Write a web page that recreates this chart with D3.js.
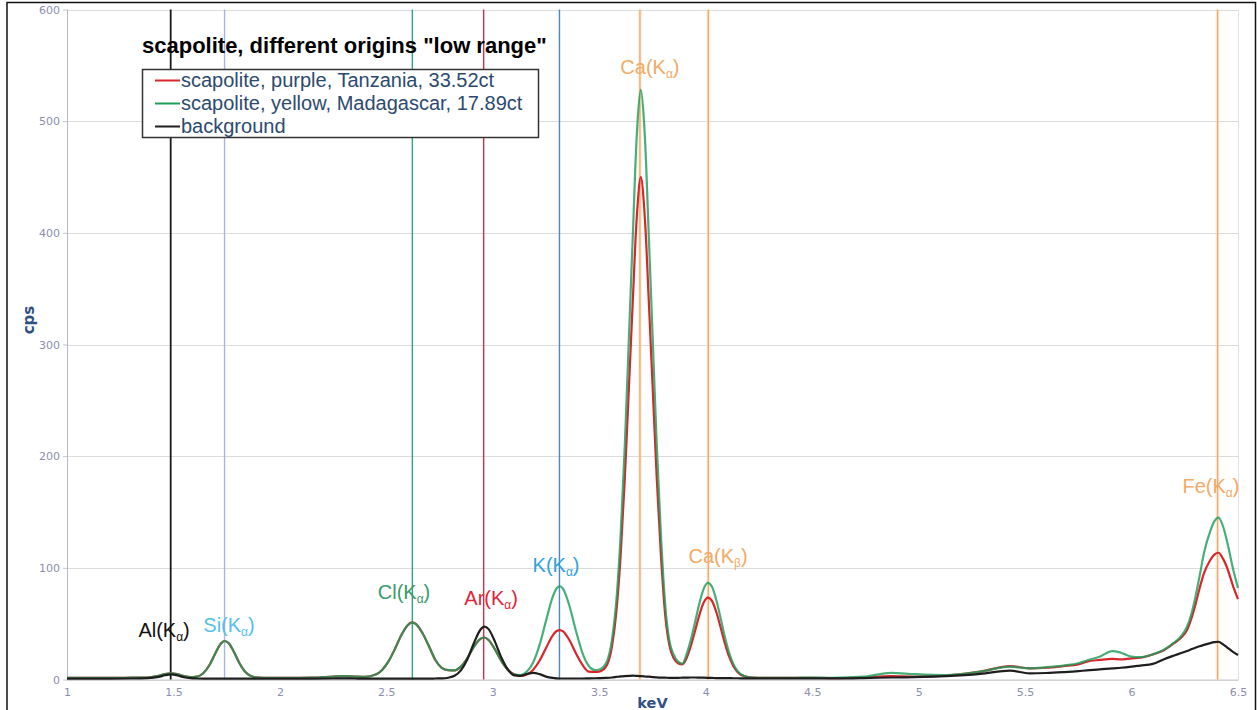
<!DOCTYPE html>
<html>
<head>
<meta charset="utf-8">
<script src="https://cdn.jsdelivr.net/npm/d3@7"></script>
<style>
  html, body { margin: 0; padding: 0; background: #ffffff; }
  svg { display: block; }
</style>
</head>
<body>
<svg id="chart" width="1257" height="710"></svg>
<script>
// ---- spectrum data (energy in keV, intensity in cps) ----
const energy = [
  1.00, 1.10, 1.20, 1.30, 1.38, 1.43, 1.46, 1.49, 1.52, 1.55,
  1.58, 1.61, 1.64, 1.67, 1.70, 1.72, 1.74, 1.76, 1.78, 1.81,
  1.84, 1.87, 1.90, 1.95, 2.05, 2.15, 2.25, 2.30, 2.35, 2.40,
  2.45, 2.48, 2.51, 2.54, 2.57, 2.60, 2.62, 2.64, 2.67, 2.70,
  2.73, 2.76, 2.79, 2.82, 2.85, 2.88, 2.91, 2.94, 2.96, 2.98,
  3.01, 3.04, 3.07, 3.10, 3.13, 3.16, 3.19, 3.22, 3.25, 3.28,
  3.30, 3.315, 3.33, 3.36, 3.39, 3.42, 3.45, 3.48, 3.50, 3.53,
  3.56, 3.58, 3.60, 3.62, 3.64, 3.66, 3.67, 3.68, 3.695, 3.71,
  3.72, 3.73, 3.75, 3.77, 3.79, 3.81, 3.83, 3.85, 3.87, 3.89,
  3.91, 3.93, 3.95, 3.97, 3.99, 4.01, 4.03, 4.05, 4.07, 4.09,
  4.11, 4.13, 4.15, 4.18, 4.22, 4.30, 4.40, 4.50, 4.60, 4.74,
  4.87, 4.98, 5.13, 5.29, 5.43, 5.52, 5.60, 5.68, 5.75, 5.79,
  5.85, 5.91, 5.95, 6.00, 6.04, 6.10, 6.15, 6.20, 6.23, 6.26,
  6.28, 6.30, 6.32, 6.34, 6.37, 6.39, 6.408, 6.43, 6.447, 6.478,
  6.50
];

// scapolite, purple, Tanzania, 33.52ct
const tanzania = [
  1.5, 1.5, 1.5, 1.6, 1.7, 3.3, 4.8, 5.5, 4.6, 3.0,
  2.1, 2.6, 5.6, 13.2, 24.7, 31.5, 34.5, 32.4, 26.2, 14.6,
  6.3, 2.7, 1.7, 1.5, 1.5, 1.6, 2.6, 3.0, 2.6, 2.3,
  4.4, 8.6, 16.2, 27.3, 39.6, 48.6, 51.2, 49.6, 41.4, 29.8,
  17.5, 10.5, 8.4, 8.2, 11.5, 19.0, 29.0, 36.2, 37.6, 35.4,
  27.0, 16.7, 8.8, 4.6, 3.2, 4.5, 8.8, 17.0, 28.2, 39.0,
  43.4, 44.3, 43.0, 35.1, 23.6, 13.5, 7.1, 6.7, 7.0, 11.0,
  30, 60, 110, 180, 265, 350, 393, 425, 450, 425,
  393, 350, 265, 180, 110, 57, 30, 19, 14.5, 13.5,
  19, 30, 43.6, 57.7, 68.7, 73.3, 70.2, 60.2, 46.5, 32.4,
  20.4, 11.9, 6.6, 3.0, 1.8, 1.5, 1.5, 1.5, 1.2, 1.8,
  3.0, 2.5, 3.5, 7.0, 12.0, 10.0, 10.5, 12.0, 13.5, 16.0,
  17.5, 18.5, 18.0, 19.0, 19.5, 22.5, 26.0, 32.5, 37.0, 44.0,
  54, 67, 82, 95, 107, 112, 113.5, 108, 101, 83,
  72
];

// scapolite, yellow, Madagascar, 17.89ct
const madagascar = [
  1.5, 1.5, 1.5, 1.6, 1.7, 3.3, 4.8, 5.5, 4.6, 3.0,
  2.1, 2.6, 5.6, 13.2, 24.7, 31.5, 34.5, 32.4, 26.2, 14.6,
  6.3, 2.7, 1.7, 1.5, 1.5, 1.6, 2.6, 3.0, 2.6, 2.3,
  4.4, 8.6, 16.2, 27.3, 39.6, 48.6, 50.9, 49.4, 41.4, 29.8,
  17.5, 10.5, 8.4, 8.2, 11.5, 19.0, 29.0, 36.2, 37.6, 35.4,
  27.0, 16.7, 8.8, 4.6, 4.0, 7.1, 15.5, 31.2, 52.7, 73.3,
  81.7, 83.5, 81.1, 65.8, 43.9, 24.4, 12.3, 8.5, 9.0, 14.0,
  36, 70, 128, 210, 310, 410, 462, 500, 528, 500,
  462, 410, 310, 210, 128, 66, 34, 22, 16, 14.3,
  22.5, 35.5, 51.5, 68, 81, 86.5, 82.8, 71, 54.8, 38,
  23.9, 13.8, 7.5, 3.2, 1.8, 1.5, 1.5, 1.8, 1.5, 2.5,
  6.0, 4.8, 3.9, 7.0, 11.5, 10.0, 11.0, 12.5, 14.5, 17.0,
  20.4, 25.5, 24.0, 20.5, 20.0, 22.5, 26.4, 33.0, 38.0, 47.0,
  58, 74, 93, 113, 133, 142, 145, 137, 125, 98,
  82
];

// background
const background = [
  0.8, 0.8, 0.8, 0.9, 1.2, 2.3, 3.8, 4.6, 3.6, 2.0,
  1.2, 0.9, 0.8, 0.8, 0.8, 0.8, 0.8, 0.8, 0.8, 0.8,
  0.8, 0.8, 0.8, 0.8, 0.8, 0.8, 0.9, 1.0, 0.9, 0.8,
  0.8, 0.8, 0.8, 0.8, 0.8, 0.8, 0.8, 0.8, 0.8, 0.8,
  0.9, 1.0, 1.6, 3.3, 8.2, 18.0, 32.0, 44.1, 47.3, 45.1,
  33.9, 19.7, 9.2, 3.7, 3.3, 4.9, 6.0, 4.8, 2.6, 1.4,
  1.0, 0.9, 0.9, 0.9, 0.9, 0.9, 1.0, 1.1, 1.2, 1.4,
  1.8, 2.3, 2.8, 3.1, 3.3, 3.4, 3.3, 3.2, 3.0, 2.8,
  2.6, 2.5, 2.2, 1.9, 1.7, 1.6, 1.5, 1.5, 1.5, 1.6,
  1.7, 1.8, 1.8, 1.7, 1.6, 1.5, 1.4, 1.3, 1.3, 1.2,
  1.2, 1.1, 1.1, 1.0, 1.0, 1.0, 1.0, 1.0, 1.0, 1.3,
  1.8, 2.1, 3.0, 5.0, 7.9, 5.5, 5.8, 6.6, 7.5, 8.2,
  9.0, 10.0, 10.5, 11.5, 12.5, 14.0, 18.0, 21.5, 23.5, 25.5,
  27.0, 28.5, 29.8, 31.0, 32.6, 33.4, 33.8, 31.5, 29.0, 24.5,
  22.0
];

const seriesNames = [
  "scapolite, purple, Tanzania, 33.52ct",
  "scapolite, yellow, Madagascar, 17.89ct",
  "background"
];

// ---- axes ----
const xTicks = [1, 1.5, 2, 2.5, 3, 3.5, 4, 4.5, 5, 5.5, 6, 6.5];
const xTickLabels = ["1", "1.5", "2", "2.5", "3", "3.5", "4", "4.5", "5", "5.5", "6", "6.5"];
const yTicks = [0, 100, 200, 300, 400, 500, 600];

// ---- emission line markers ----
const lineElements = ["Al", "Si", "Cl", "Ar", "K", "Ca", "Ca", "Fe"];
const lineShells   = ["α", "α", "α", "α", "α", "α", "β", "α"];
const lineEnergies = [1.487, 1.740, 2.622, 2.957, 3.313, 3.691, 4.012, 6.404];
// label anchor (centre energy, baseline cps)
const labelEnergies = [1.456, 1.761, 2.583, 2.992, 3.297, 3.738, 4.058, 6.373];
const labelLevels   = [37.8, 42.8, 72, 66.7, 96.5, 542, 104, 167];

// ---- styles ----
const seriesColors = ["#d8262a", "#1f9c5c", "#1e1e1e"];
const markerColors = ["#1a1a1a", "#aab4e4", "#34a478", "#c8304c", "#4a88c4", "#eeaa6a", "#eeaa6a", "#eeaa6a"];
const labelColors  = ["#111111", "#55c0ea", "#3a9a6c", "#e0243a", "#2fa2dc", "#f2aa66", "#f2aa66", "#f2aa66"];

const W = 1257, H = 710;
const margin = { left: 67, right: W - 1238, top: 9.5, bottom: H - 679.5 };

const svg = d3.select("#chart");

const x = d3.scaleLinear().domain([1, 6.5]).range([margin.left, W - margin.right]);
const y = d3.scaleLinear().domain([0, 600]).range([H - margin.bottom, margin.top]);

// outer frame
svg.append("rect")
  .attr("x", 7).attr("y", 2.5)
  .attr("width", W - 8.5).attr("height", H + 5)
  .attr("fill", "#ffffff")
  .attr("stroke", "#111").attr("stroke-width", 1.5);

// horizontal grid
svg.append("g")
  .selectAll("line").data(yTicks).join("line")
  .attr("x1", x(1)).attr("x2", x(6.5))
  .attr("y1", d => Math.round(y(d)) + 0.5).attr("y2", d => Math.round(y(d)) + 0.5)
  .attr("stroke", "#dcdcdc").attr("stroke-width", 1);

// plot frame (left and right edges)
svg.append("line")
  .attr("x1", x(1) + 0.5).attr("x2", x(1) + 0.5)
  .attr("y1", y(600)).attr("y2", y(0))
  .attr("stroke", "#b8b8c4").attr("stroke-width", 1);
svg.append("line")
  .attr("x1", x(6.5) + 0.5).attr("x2", x(6.5) + 0.5)
  .attr("y1", y(600)).attr("y2", y(0))
  .attr("stroke", "#e2e2e2").attr("stroke-width", 1);

// y axis
const yAxis = d3.axisLeft(y).tickValues(yTicks).tickSize(4).tickPadding(3).tickFormat(d3.format("d"));
const gy = svg.append("g").attr("transform", `translate(${x(1)},0)`).call(yAxis);
gy.select(".domain").remove();
gy.selectAll(".tick line").attr("stroke", "#c4c4cc");
gy.selectAll(".tick text")
  .attr("fill", "#8a8eae")
  .style("font-family", "'DejaVu Sans', sans-serif")
  .style("font-size", "11px");

// x axis
const xAxis = d3.axisBottom(x).tickValues(xTicks).tickSize(0).tickPadding(9)
  .tickFormat((d, i) => xTickLabels[i]);
const gx = svg.append("g").attr("transform", `translate(0,${y(0)})`).call(xAxis);
gx.select(".domain").attr("stroke", "#c8c8d0");
gx.selectAll(".tick text")
  .attr("fill", "#8a8eae")
  .style("font-family", "'DejaVu Sans', sans-serif")
  .style("font-size", "11px");

// axis titles
svg.append("text")
  .attr("x", (x(1) + x(6.5)) / 2).attr("y", 707.5)
  .attr("text-anchor", "middle")
  .attr("fill", "#2f5182")
  .style("font-family", "'DejaVu Sans', sans-serif")
  .style("font-weight", "bold").style("font-size", "14.5px")
  .text("keV");
svg.append("text")
  .attr("transform", "translate(34,320) rotate(-90)")
  .attr("text-anchor", "middle")
  .attr("fill", "#2f5182")
  .style("font-family", "'DejaVu Sans', sans-serif")
  .style("font-weight", "bold").style("font-size", "15px")
  .text("cps");

// emission line markers
const markers = lineEnergies.map((e, i) => ({ e, i }));
const gm = svg.append("g");
gm.selectAll("line.halo").data(markers.filter(d => lineElements[d.i] === "Ca" || lineElements[d.i] === "Fe"))
  .join("line").attr("class", "halo")
  .attr("x1", d => x(d.e)).attr("x2", d => x(d.e))
  .attr("y1", y(600)).attr("y2", y(0))
  .attr("stroke", "#f8dcc0").attr("stroke-width", 4).attr("stroke-opacity", 0.45);
gm.selectAll("line.marker").data(markers).join("line").attr("class", "marker")
  .attr("x1", d => x(d.e)).attr("x2", d => x(d.e))
  .attr("y1", y(600)).attr("y2", y(0))
  .attr("stroke", d => markerColors[d.i])
  .attr("stroke-width", d => d.i === 0 ? 1.8 : 1.4);

// spectra
const line = d3.line()
  .x(d => x(d[0]))
  .y(d => y(d[1]))
  .curve(d3.curveMonotoneX);
const seriesValues = [tanzania, madagascar, background];
const seriesOpacity = [1, 0.82, 1];
seriesValues.forEach((vals, s) => {
  svg.append("path")
    .datum(energy.map((e, i) => [e, vals[i]]))
    .attr("fill", "none")
    .attr("stroke", seriesColors[s])
    .attr("stroke-opacity", seriesOpacity[s])
    .attr("stroke-width", 2.2)
    .attr("stroke-linejoin", "round")
    .attr("d", line);
});

// marker labels
const gl = svg.append("g")
  .style("font-family", "'Liberation Sans', Arial, sans-serif")
  .style("font-size", "20px");
markers.forEach(d => {
  const t = gl.append("text")
    .attr("x", x(labelEnergies[d.i]))
    .attr("y", y(labelLevels[d.i]))
    .attr("text-anchor", "middle")
    .attr("fill", labelColors[d.i]);
  t.append("tspan").text(lineElements[d.i] + "(K");
  t.append("tspan").attr("dy", 4).style("font-size", "12px").text(lineShells[d.i]);
  t.append("tspan").attr("dy", -4).text(")");
});

// title
svg.append("text")
  .attr("x", 142).attr("y", 53)
  .attr("fill", "#000")
  .style("font-family", "'Liberation Sans', Arial, sans-serif")
  .style("font-weight", "bold").style("font-size", "22px")
  .text("scapolite, different origins \"low range\"");

// legend
const lg = svg.append("g");
lg.append("rect")
  .attr("x", 142.5).attr("y", 69.5).attr("width", 396).attr("height", 68)
  .attr("fill", "#ffffff").attr("stroke", "#333").attr("stroke-width", 1.5);
seriesNames.forEach((name, i) => {
  const cy = 80.5 + i * 23;
  lg.append("line")
    .attr("x1", 155).attr("x2", 180)
    .attr("y1", cy).attr("y2", cy)
    .attr("stroke", seriesColors[i]).attr("stroke-width", 2);
  lg.append("text")
    .attr("x", 181).attr("y", cy + 6.5)
    .attr("fill", "#2c4a70")
    .style("font-family", "'Liberation Sans', Arial, sans-serif")
    .style("font-size", "20px")
    .text(name);
});
</script>
</body>
</html>
